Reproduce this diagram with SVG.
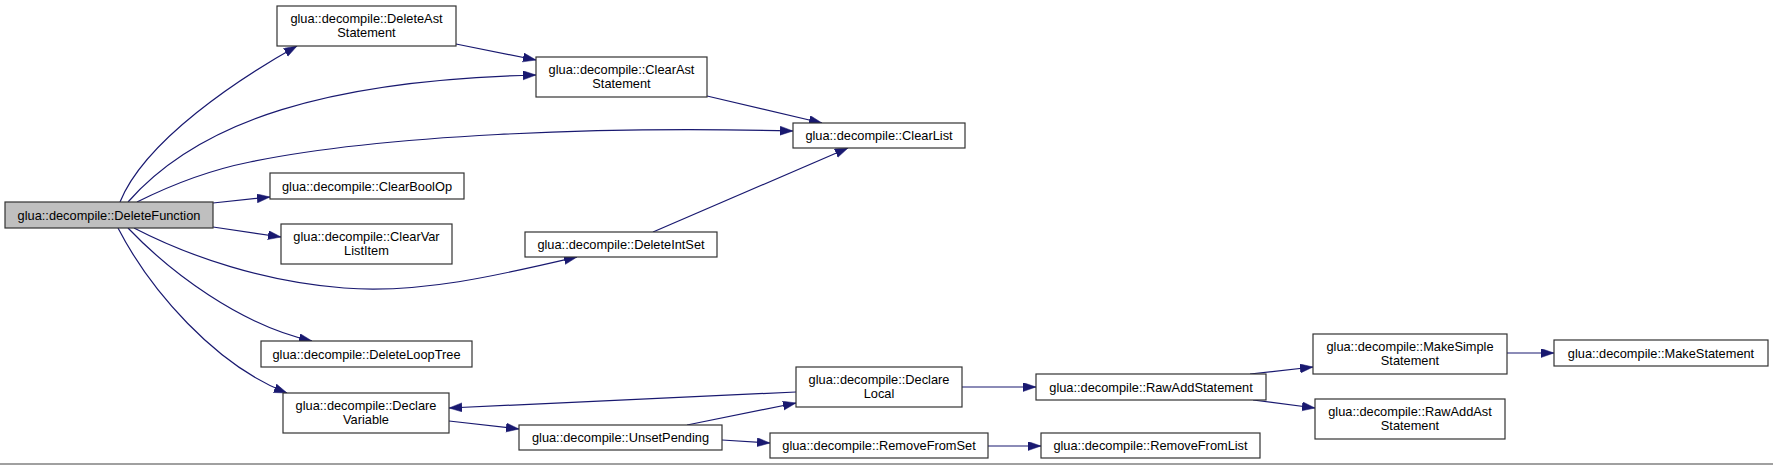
<svg xmlns="http://www.w3.org/2000/svg" width="1773" height="465" viewBox="0 0 1773 465">
<style>
.n rect{fill:#ffffff;stroke:#333333;stroke-width:1.2}
.root rect{fill:#bfbfbf}
.n text{font-family:"Liberation Sans",Arial,sans-serif;font-size:12.8px;fill:#000;text-anchor:middle}
.e path{fill:none;stroke:#191970;stroke-width:1.2;marker-end:url(#ah)}
</style>
<defs>
<marker id="ah" markerUnits="userSpaceOnUse" markerWidth="14" markerHeight="10" refX="13" refY="4.5" orient="auto">
<path d="M0,0 L13,4.5 L0,9 Z" fill="#191970" stroke="#191970" stroke-width="0.5"/>
</marker>
</defs>
<rect x="0" y="0" width="1773" height="465" fill="#ffffff"/>
<line x1="0" y1="464" x2="1773" y2="464" stroke="#808080" stroke-width="1.5"/>
<g id="connectors" class="e">
<path d="M120,202 C145,140 240,78 297,46"/>
<path d="M128,202 C200,120 330,80 536,75"/>
<path d="M137,202 C175,183 210,170 250,162 C380,135 600,126 793,131"/>
<path d="M456,44 L536,60"/>
<path d="M707,96 L822,123"/>
<path d="M653,232 L848,148"/>
<path d="M213,203 L270,197"/>
<path d="M213,227 L281,237"/>
<path d="M134,228 C190,257 265,282 344,288 C420,294 500,275 577,257"/>
<path d="M128,228 C170,272 240,325 312,341"/>
<path d="M118,228 C150,290 215,365 287,393"/>
<path d="M796,392 L449,408"/>
<path d="M449,421 L519,429"/>
<path d="M687,425 L796,403"/>
<path d="M722,440 L770,443"/>
<path d="M962,387 L1036,387"/>
<path d="M988,446 L1041,446"/>
<path d="M1250,374 L1313,367"/>
<path d="M1253,400 L1315,408"/>
<path d="M1507,353 L1554,353"/>
</g>
<g id="DeleteFunction" class="n root"><rect x="5" y="202" width="208" height="26"/><text x="109" y="219.5">glua::decompile::DeleteFunction</text></g>
<g id="DeleteAstStatement" class="n"><rect x="277" y="6" width="179" height="40"/><text x="366.5" y="22.5">glua::decompile::DeleteAst</text><text x="366.5" y="36.5">Statement</text></g>
<g id="ClearAstStatement" class="n"><rect x="536" y="57" width="171" height="40"/><text x="621.5" y="73.5">glua::decompile::ClearAst</text><text x="621.5" y="87.5">Statement</text></g>
<g id="ClearList" class="n"><rect x="793" y="123" width="172" height="25"/><text x="879" y="140">glua::decompile::ClearList</text></g>
<g id="ClearBoolOp" class="n"><rect x="270" y="173" width="194" height="26"/><text x="367" y="190.5">glua::decompile::ClearBoolOp</text></g>
<g id="ClearVarListItem" class="n"><rect x="281" y="224" width="171" height="40"/><text x="366.5" y="240.5">glua::decompile::ClearVar</text><text x="366.5" y="254.5">ListItem</text></g>
<g id="DeleteIntSet" class="n"><rect x="525" y="232" width="192" height="25"/><text x="621" y="249">glua::decompile::DeleteIntSet</text></g>
<g id="DeleteLoopTree" class="n"><rect x="261" y="341" width="211" height="26"/><text x="366.5" y="358.5">glua::decompile::DeleteLoopTree</text></g>
<g id="DeclareVariable" class="n"><rect x="283" y="393" width="166" height="40"/><text x="366" y="409.5">glua::decompile::Declare</text><text x="366" y="423.5">Variable</text></g>
<g id="UnsetPending" class="n"><rect x="519" y="425" width="203" height="25"/><text x="620.5" y="442">glua::decompile::UnsetPending</text></g>
<g id="DeclareLocal" class="n"><rect x="796" y="367" width="166" height="40"/><text x="879" y="383.5">glua::decompile::Declare</text><text x="879" y="397.5">Local</text></g>
<g id="RemoveFromSet" class="n"><rect x="770" y="433" width="218" height="25"/><text x="879" y="450">glua::decompile::RemoveFromSet</text></g>
<g id="RawAddStatement" class="n"><rect x="1036" y="374" width="230" height="26"/><text x="1151" y="391.5">glua::decompile::RawAddStatement</text></g>
<g id="RemoveFromList" class="n"><rect x="1041" y="433" width="219" height="25"/><text x="1150.5" y="450">glua::decompile::RemoveFromList</text></g>
<g id="MakeSimpleStatement" class="n"><rect x="1313" y="334" width="194" height="40"/><text x="1410" y="350.5">glua::decompile::MakeSimple</text><text x="1410" y="364.5">Statement</text></g>
<g id="RawAddAstStatement" class="n"><rect x="1315" y="399" width="190" height="40"/><text x="1410" y="415.5">glua::decompile::RawAddAst</text><text x="1410" y="429.5">Statement</text></g>
<g id="MakeStatement" class="n"><rect x="1554" y="340" width="214" height="26"/><text x="1661" y="357.5">glua::decompile::MakeStatement</text></g>
</svg>
